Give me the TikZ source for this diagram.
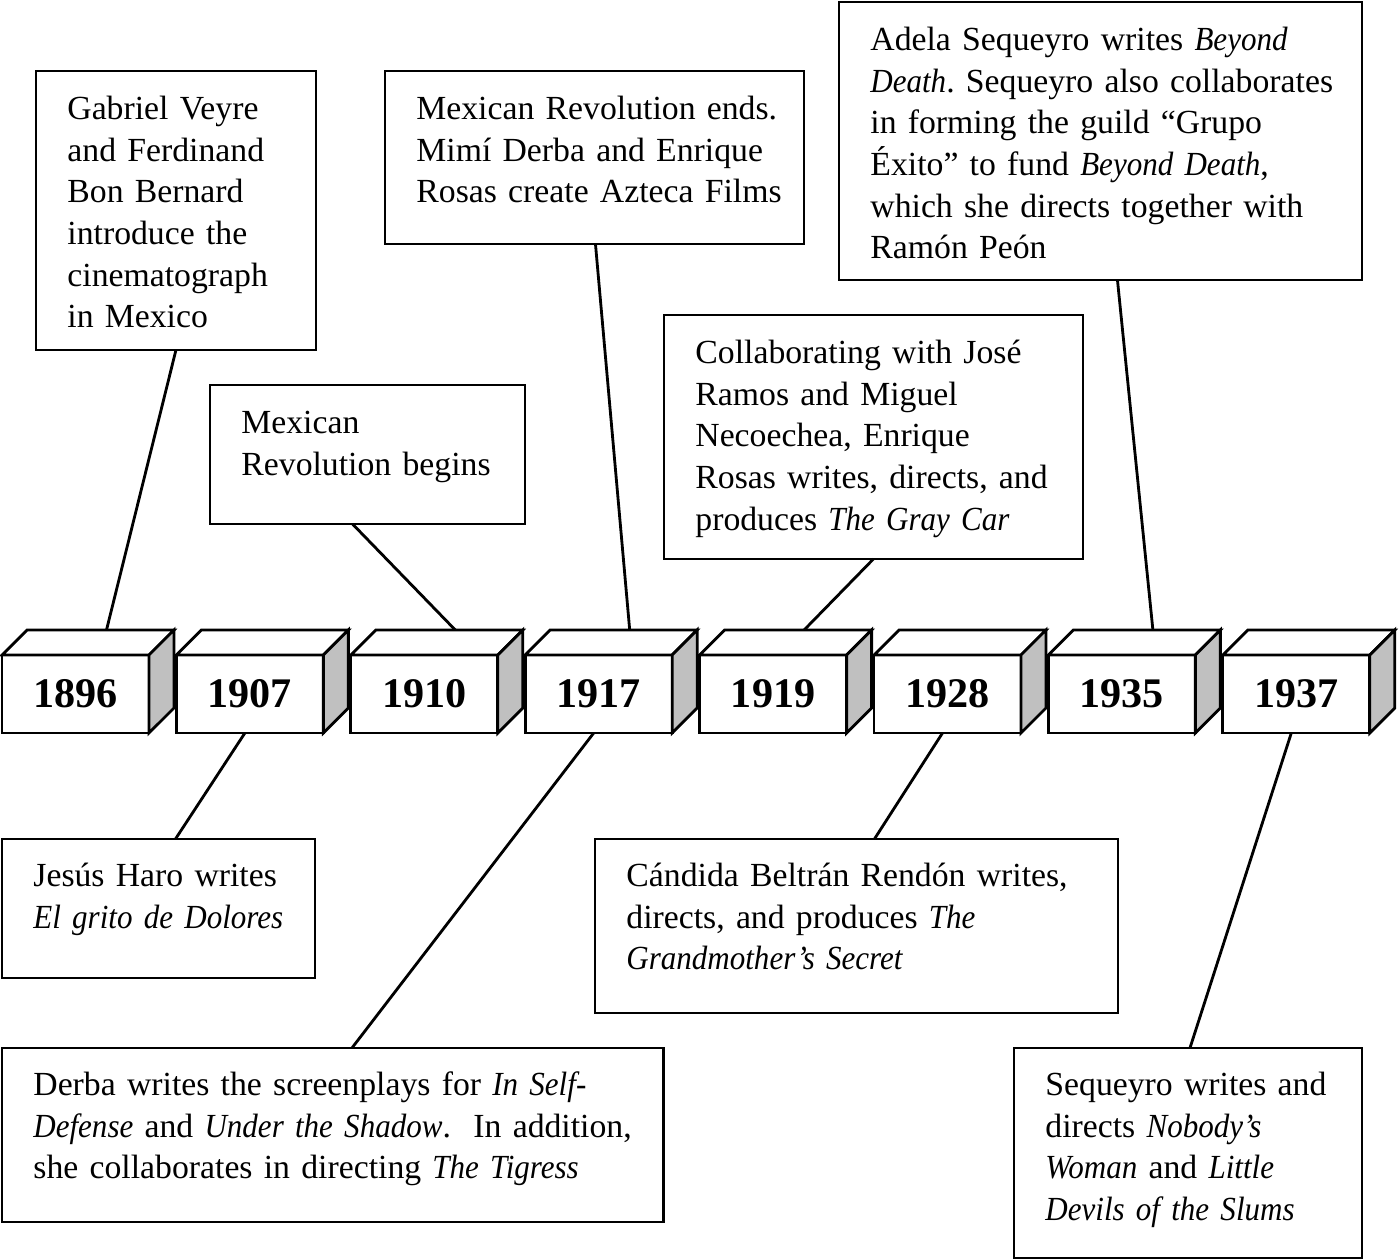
\documentclass[tikz,border=0pt]{standalone}
\usepackage{fontspec}
\setmainfont{Liberation Serif}[ItalicFeatures={FakeStretch=0.92}]
\usepackage{tikz}
\usetikzlibrary{calc}
\definecolor{sidegray}{RGB}{192,192,192}
\setlength{\parindent}{0pt}
\frenchspacing

\begin{document}
\begin{tikzpicture}[
  x=0.02cm, y=-0.02cm, line width=1.6pt,
  event/.style 2 args={draw, anchor=north west, outer sep=0pt, inner sep=0pt,
                       minimum width=#1cm, minimum height=#2cm},
  note/.style={anchor=north west, inner sep=0pt, align=left, text width=#1cm,
               font=\fontsize{19.2}{23.7}\selectfont, execute at begin node=\strut},
  yearbox/.style={draw, fill=white, outer sep=0pt, inner sep=0pt,
                  minimum width=2.94cm, minimum height=1.56cm,
                  font=\fontsize{24}{28}\selectfont\bfseries},
  face/.style={draw, fill=white},
  side/.style={draw, fill=sidegray},
]
  \useasboundingbox (0,0) rectangle (1400,1260);

  % ---- Year blocks ----
  \foreach \yr [count=\k from 0] in {1896,1907,1910,1917,1919,1928,1935,1937} {
    \node[yearbox] (y\yr) at ({75.5+174.4*\k},694) {\yr};
    \draw[face] (y\yr.north west) -- ++(25,-25) -- ++(147,0) -- (y\yr.north east) -- cycle;
    \draw[side] (y\yr.north east) -- ++(25,-25) -- ++(0,78) -- (y\yr.south east) -- cycle;
    \coordinate (t\yr) at ($(y\yr.north)+(31,-25)$);   % top face
    \coordinate (b\yr) at ($(y\yr.south)+(-5,0)$);     % bottom edge
  }

  % ---- Events above the line ----
  \node[event={5.6}{5.58}] (gv) at (36,71) {};
    \node[note=5.0] at ($(gv.north west)+(30,18)$)
      {Gabriel Veyre\\and Ferdinand\\Bon Bernard\\introduce the\\cinematograph\\in Mexico};
  \node[event={6.3}{2.78}] (rb) at (210,385) {};
    \node[note=5.7] at ($(rb.north west)+(30,18)$) {Mexican\\Revolution begins};
  \node[event={8.38}{3.46}] (re) at (385,71) {};
    \node[note=7.8] at ($(re.north west)+(30,18)$)
      {Mexican Revolution ends.\\Mimí Derba and Enrique\\Rosas create Azteca Films};
  \node[event={8.38}{4.88}] (gc) at (664,315) {};
    \node[note=7.8] at ($(gc.north west)+(30,18)$)
      {Collaborating with José\\Ramos and Miguel\\Necoechea, Enrique\\Rosas writes, directs, and\\produces \textit{The Gray Car}};
  \node[event={10.46}{5.56}] (bd) at (839,2) {};
    \node[note=9.9] at ($(bd.north west)+(30,18)$)
      {Adela Sequeyro writes \textit{Beyond}\\\textit{Death}. Sequeyro also collaborates\\in forming the guild “Grupo\\Éxito” to fund \textit{Beyond Death},\\which she directs together with\\Ramón Peón};

  % ---- Events below the line ----
  \node[event={6.26}{2.78}] (jh) at (2,839) {};
    \node[note=5.7] at ($(jh.north west)+(30,17)$)
      {Jesús Haro writes\\\textit{El grito de Dolores}};
  \node[event={13.24}{3.48}] (dw) at (2,1048) {};
    \node[note=12.6] at ($(dw.north west)+(30,17)$)
      {Derba writes the screenplays for \textit{In Self-}\\\textit{Defense} and \textit{Under the Shadow}.\ \ In addition,\\she collaborates in directing \textit{The Tigress}};
  \node[event={10.46}{3.48}] (cb) at (595,839) {};
    \node[note=9.9] at ($(cb.north west)+(30,17)$)
      {Cándida Beltrán Rendón writes,\\directs, and produces \textit{The}\\\textit{Grandmother’s Secret}};
  \node[event={6.96}{4.2}] (sq) at (1014,1048) {};
    \node[note=6.4] at ($(sq.north west)+(30,17)$)
      {Sequeyro writes and\\directs \textit{Nobody’s}\\\textit{Woman} and \textit{Little}\\\textit{Devils of the Slums}};

  % ---- Connectors ----
  \draw (gv.south) -- (t1896);
  \draw ($(rb.south)+(-15,0)$) -- (t1910);
  \draw ($(re.south)+(1,0)$) -- (t1917);
  \draw (gc.south) -- (t1919);
  \draw ($(bd.south)+(17,0)$) -- (t1935);
  \draw (b1907) -- ($(jh.north)+(17,0)$);
  \draw (b1917) -- ($(dw.north)+(19,0)$);
  \draw (b1928) -- ($(cb.north)+(18,0)$);
  \draw (b1937) -- ($(sq.north)+(2,0)$);
\end{tikzpicture}
\end{document}
